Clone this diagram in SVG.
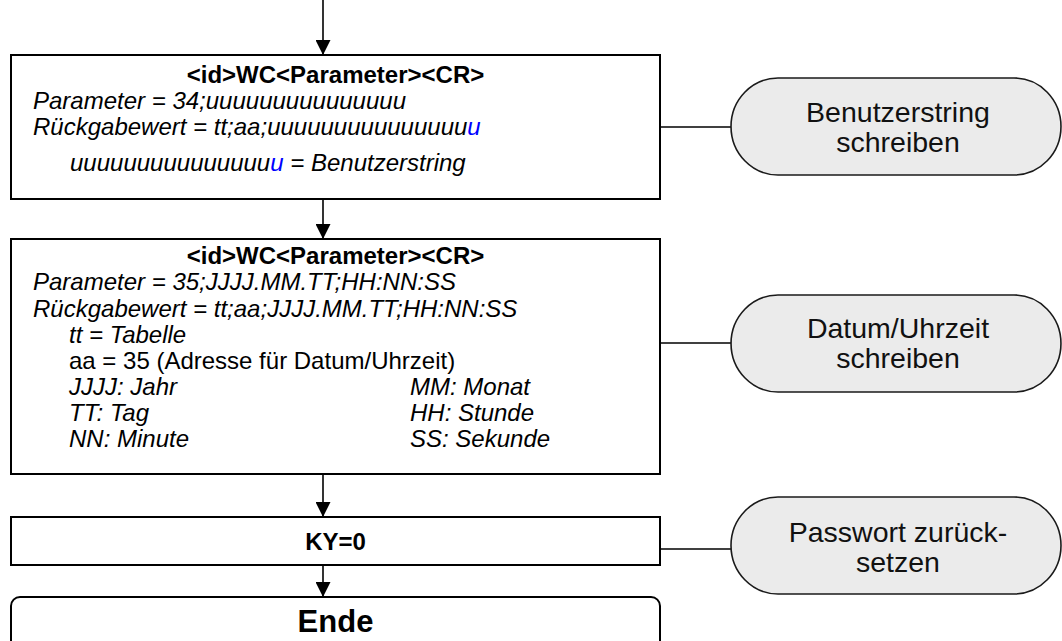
<svg xmlns="http://www.w3.org/2000/svg" width="1062" height="641" viewBox="0 0 1062 641">
<defs>
<style>
.box{fill:#fff;stroke:#000;stroke-width:2}
.pill{fill:#ebebeb;stroke:#1a1a1a;stroke-width:1.6}
.t{font-family:"Liberation Sans",Arial,sans-serif;font-size:24px;fill:#000}
.i{font-style:italic}
.b{font-weight:bold}
.c{text-anchor:middle}
.pt{font-family:"Liberation Sans",Arial,sans-serif;font-size:28.5px;fill:#111;text-anchor:middle}
.blue{fill:#0000ff}
.ln{stroke:#000;stroke-width:1.6;fill:none}
</style>
<marker id="ah" markerWidth="15" markerHeight="15" viewBox="0 0 15 15" refX="15" refY="7.5" orient="auto" markerUnits="userSpaceOnUse">
<path d="M0,0 L15,7.5 L0,15 Z" fill="#000"/>
</marker>
</defs>
<rect width="1062" height="641" fill="#fff"/>
<g id="connectors">
<line class="ln" x1="323" y1="0" x2="323" y2="55" marker-end="url(#ah)"/>
<line class="ln" x1="323" y1="199" x2="323" y2="239" marker-end="url(#ah)"/>
<line class="ln" x1="323" y1="474" x2="323" y2="517" marker-end="url(#ah)"/>
<line class="ln" x1="323" y1="565" x2="323" y2="597" marker-end="url(#ah)"/>
<line class="ln" x1="660" y1="127" x2="731" y2="127"/>
<line class="ln" x1="660" y1="343" x2="731" y2="343"/>
<line class="ln" x1="660" y1="549" x2="731" y2="549"/>
</g>
<g id="node-benutzerstring-cmd">
<rect class="box" x="11" y="55" width="649" height="144"/>
<text class="t b c" x="335.5" y="83">&lt;id&gt;WC&lt;Parameter&gt;&lt;CR&gt;</text>
<text class="t i" x="33" y="109">Parameter = 34;uuuuuuuuuuuuuuu</text>
<text class="t i" x="33" y="135">Rückgabewert = tt;aa;uuuuuuuuuuuuuuu<tspan class="blue">u</tspan></text>
<text class="t i" x="70" y="171">uuuuuuuuuuuuuuu<tspan class="blue">u</tspan> = Benutzerstring</text>
</g>
<g id="node-datum-cmd">
<rect class="box" x="11" y="239" width="649" height="235"/>
<text class="t b c" x="335.5" y="264">&lt;id&gt;WC&lt;Parameter&gt;&lt;CR&gt;</text>
<text class="t i" x="33" y="290">Parameter = 35;JJJJ.MM.TT;HH:NN:SS</text>
<text class="t i" x="33" y="317">Rückgabewert = tt;aa;JJJJ.MM.TT;HH:NN:SS</text>
<text class="t i" x="69" y="343">tt = Tabelle</text>
<text class="t" x="69" y="369">aa = 35 (Adresse für Datum/Uhrzeit)</text>
<text class="t i" x="69" y="395">JJJJ: Jahr</text>
<text class="t i" x="410" y="395">MM: Monat</text>
<text class="t i" x="69" y="421">TT: Tag</text>
<text class="t i" x="410" y="421">HH: Stunde</text>
<text class="t i" x="69" y="447">NN: Minute</text>
<text class="t i" x="410" y="447">SS: Sekunde</text>
</g>
<g id="node-ky">
<rect class="box" x="11" y="517" width="649" height="48"/>
<text class="t b c" x="335.5" y="550">KY=0</text>
</g>
<g id="node-ende">
<rect class="box" x="11" y="597" width="649" height="60" rx="9"/>
<text class="t b c" x="335.5" y="632" style="font-size:31px">Ende</text>
</g>
<g id="pill-benutzerstring">
<path class="pill" d="M778,78 H1014 A47,48.5 0 0 1 1014,175 H778 A47,48.5 0 0 1 778,78 Z"/>
<text class="pt" x="898" y="122">Benutzerstring</text>
<text class="pt" x="898" y="152">schreiben</text>
</g>
<g id="pill-datum">
<path class="pill" d="M778,295 H1014 A47,48.5 0 0 1 1014,392 H778 A47,48.5 0 0 1 778,295 Z"/>
<text class="pt" x="898" y="338">Datum/Uhrzeit</text>
<text class="pt" x="898" y="368">schreiben</text>
</g>
<g id="pill-passwort">
<path class="pill" d="M778,497 H1014 A47,48.5 0 0 1 1014,594 H778 A47,48.5 0 0 1 778,497 Z"/>
<text class="pt" x="898" y="542">Passwort zurück-</text>
<text class="pt" x="898" y="572">setzen</text>
</g>
</svg>
